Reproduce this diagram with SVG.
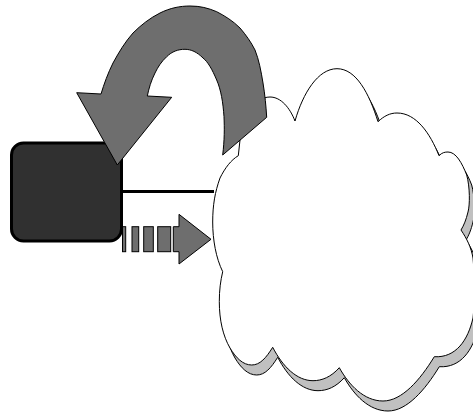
<svg xmlns="http://www.w3.org/2000/svg" width="473" height="412" viewBox="0 0 473 412">
<defs>
<style>
.thin{stroke:#000;stroke-width:1;stroke-linejoin:miter}
.gray{fill:#6e6e6e}
.cl{fill:#fff;stroke:#000;stroke-width:1;stroke-linejoin:miter}
.sh{fill:#c0c0c0;stroke:#000;stroke-width:1}
</style>
<path id="cloudShape" d="M238.300 155.700L240 140C243 118 254 97 270 97C281 97 290 108 295 121C303 93 318 68.700 337 68.700C356 68.700 369 93 378 121.700C384 116 390 113 397 113C416 113 430 133 439 155.700C442 152.500 445 152 448 152C456 152 462 163 466.700 175C470 187 470 205 468 212C466 220 464 225 461 230C467 239 471 247 473 258C475 280 475 300 473 318C468 340 456 358 434.300 356.700C420 380 402 401 383 401C364 401 349 385 339.300 367.700C331 377 322 380.700 313 380.700C297 380.700 283 367 272.700 347.300C266 358 260 365 251.700 365C243 365 236 358 230 348C223 336 219.300 320 219.300 301.700C219.300 290 220.500 281 222.700 271.700C216 258 212.700 240 212.700 222C212.700 205 215 192 220 178C225 168 231 160 238.300 155.700Z"/>
</defs>
<g id="cloud">
<use href="#cloudShape" class="sh" x="5" y="10"/>
<use href="#cloudShape" class="cl"/>
</g>
<g id="connectors">
<line x1="122" y1="191.500" x2="214" y2="191.500" stroke="#000" stroke-width="3"/>
</g>
<g id="box">
<rect x="11.500" y="143" width="110" height="98" rx="12" ry="12" fill="#303030" stroke="#000" stroke-width="3"/>
</g>
<g id="striped-arrow">
<rect class="thin gray" x="122.500" y="226.700" width="3.200" height="25"/>
<rect class="thin gray" x="132" y="226.700" width="6.700" height="25"/>
<rect class="thin gray" x="143.700" y="226.700" width="9.600" height="25"/>
<rect class="thin gray" x="157.700" y="226.700" width="13" height="25"/>
<path class="thin gray" d="M173.300 226.700H179V214.300L211 239.300L179 264V251.700H173.300Z"/>
</g>
<g id="curved-arrow">
<path class="thin gray" d="M266.700 117.300L222.700 155C224.500 140 224.500 128 224 116.700C223 102 221 90 216.700 80C212 69 208 62 203 58C197 52 191 49.300 185 49.300C178 49.300 172 51.500 166.700 56.700C161 62 158 67 155 73C151 81 149 88 147.300 96L171.700 97.300L117.300 165L76.700 92.700L101 94C104 84 108 73 113 63C119 52 125 42 133 33C141 25 150 18 160 13C170 8 180 6 190 6C200 6 208 8 216.700 11.700C225 16 233 21 240 28C246 35 251 42 255 50C259 60 261 71 263 83C265 95 266 106 266.700 117.300Z"/>
</g>
</svg>
